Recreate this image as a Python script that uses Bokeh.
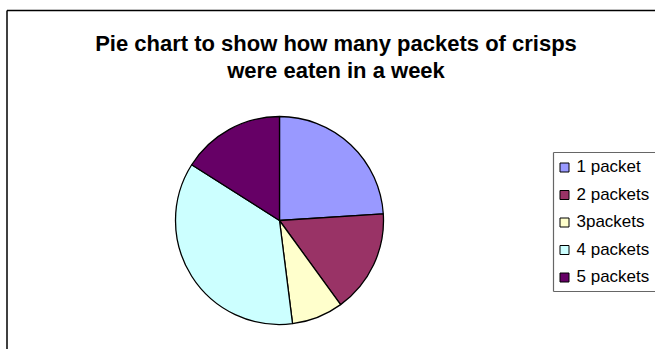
import numpy as np
from bokeh.plotting import figure
from bokeh.models import Range1d, ColumnDataSource
from bokeh.core.properties import value
from bokeh.embed import file_html
from bokeh.resources import INLINE

# ---- data ----
categories = ["1 packet", "2 packets", "3packets", "4 packets", "5 packets"]
counts = [6, 4, 2, 9, 4]
colors = ["#9999FF", "#993366", "#FFFFCC", "#CCFFFF", "#660066"]
title_lines = ["Pie chart to show how many packets of crisps", "were eaten in a week"]

W, H = 655, 349
p = figure(width=W, height=H, output_backend="svg", toolbar_location=None,
           x_range=Range1d(0, W), y_range=Range1d(0, H),
           x_axis_type=None, y_axis_type=None, min_border=0)
p.outline_line_color = None
p.grid.visible = False
p.background_fill_color = "white"
p.border_fill_color = "white"

# picture coords -> figure coords
def fx(x):
    return x
def fy(y):
    return H - y

# chart area border (top and left visible)
p.line([fx(6.5), W], [fy(10), fy(10)], line_color="black", line_width=1.5)
p.line([fx(6.5), fx(6.5)], [fy(10), 0], line_color="black", line_width=1.5)

# title
p.text(x=[fx(335.5)] * 2, y=[fy(43), fy(70)], text=title_lines,
       text_font=value("Liberation Sans"), text_font_style="bold",
       text_font_size="22px", text_align="center", text_baseline="alphabetic",
       text_color="black")

# pie
vals = np.array(counts, dtype=float)
frac = vals / vals.sum()
cum = np.concatenate([[0], np.cumsum(frac)])
start = np.pi / 2 - cum[:-1] * 2 * np.pi
end = np.pi / 2 - cum[1:] * 2 * np.pi
src = ColumnDataSource(dict(start=start, end=end, color=colors, cat=categories))
p.wedge(x=fx(279), y=fy(220), radius=104, start_angle="start", end_angle="end",
        direction="clock", fill_color="color", line_color="black", line_width=1.3,
        source=src)

# legend (manual)
n = len(categories)
row_y = [166 + 27.5 * i for i in range(n)]
lx0, ly0, ly1 = 553, 152, 291
leg_col = "#666666"
p.line([fx(lx0), fx(lx0)], [fy(ly0), fy(ly1)], line_color=leg_col, line_width=1.2)
p.line([fx(lx0), W], [fy(ly0), fy(ly0)], line_color=leg_col, line_width=1.2)
p.line([fx(lx0), W], [fy(ly1), fy(ly1)], line_color=leg_col, line_width=1.2)
p.rect(x=[fx(564)] * n, y=[fy(y + 1) for y in row_y], width=9, height=9,
       fill_color=colors, line_color="black", line_width=1)
p.text(x=[fx(576)] * n, y=[fy(y) for y in row_y], text=categories,
       text_font=value("Liberation Sans"), text_font_size="17px",
       text_align="left", text_baseline="middle", text_color="black")

open("out.html", "w").write(file_html(p, INLINE))
